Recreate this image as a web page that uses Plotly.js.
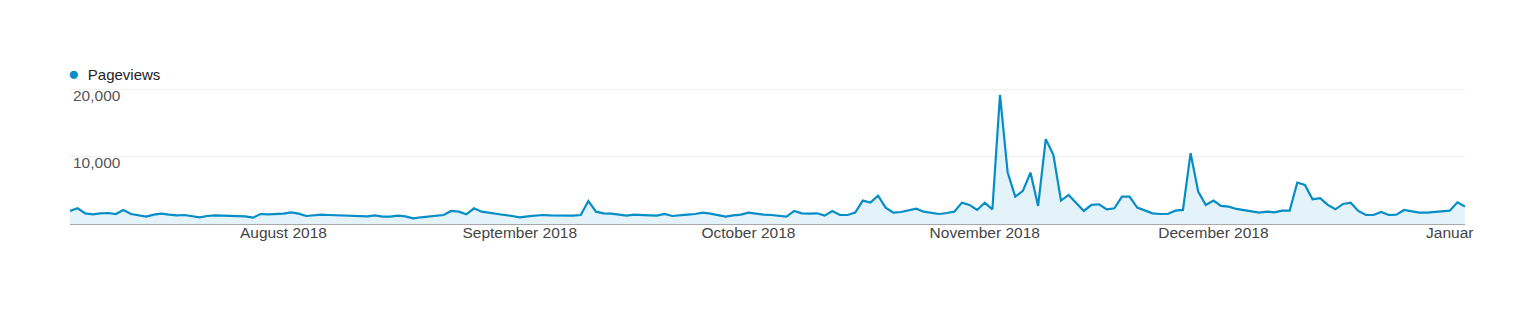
<!DOCTYPE html>
<html>
<head>
<meta charset="utf-8">
<script src="https://cdn.plot.ly/plotly-3.0.1.min.js"></script>
<style>
  html, body { margin: 0; padding: 0; background: #ffffff; }
  #chart { width: 1535px; height: 310px; }
</style>
</head>
<body>
<div id="chart"></div>
<script>
// Daily pageviews, one value per day starting at startDate
const seriesName = "Pageviews";
const startDate = "2018-07-04";
const pageviews = [
  1940, 2340, 1590, 1440, 1590, 1640, 1490, 2090, 1490, 1290,
  1090, 1390, 1540, 1390, 1290, 1340, 1190, 1000, 1190, 1290,
  1240, 1240, 1190, 1140, 950, 1490, 1440, 1490, 1540, 1740,
  1540, 1190, 1340, 1390, 1340, 1290, 1240, 1190, 1090, 1140,
  1290, 1090, 1090, 1240, 1140, 850, 1000, 1140, 1240, 1340,
  1940, 1840, 1440, 2340, 1840, 1640, 1490, 1340, 1190, 1000,
  1140, 1290, 1340, 1290, 1290, 1190, 1240, 1340, 3430, 1840,
  1590, 1540, 1390, 1240, 1390, 1290, 1290, 1240, 1490, 1190,
  1240, 1390, 1490, 1690, 1540, 1290, 1090, 1290, 1390, 1690,
  1490, 1390, 1340, 1240, 1090, 1940, 1590, 1540, 1590, 1240,
  1940, 1340, 1340, 1690, 3480, 3180, 4230, 2440, 1690, 1790,
  1990, 2290, 1840, 1690, 1490, 1640, 1840, 3180, 2840, 2090,
  3180, 2190, 19250, 7710, 4080, 4930, 7660, 2690, 12640, 10300,
  3480, 4330, 3080, 1940, 2840, 2940, 2190, 2340, 4080, 4080,
  2440, 1990, 1590, 1490, 1490, 1990, 2090, 10550, 4830, 2840,
  3480, 2690, 2590, 2240, 2090, 1840, 1690, 1840, 1740, 1990,
  1990, 6170, 5820, 3680, 3830, 2840, 2190, 2990, 3180, 1940,
  1340, 1340, 1790, 1340, 1390, 2090, 1890, 1690, 1690, 1790,
  1840, 1990, 3230, 2590
];
const monthTickDates = ["2018-08-01", "2018-09-01", "2018-10-01", "2018-11-01", "2018-12-01", "2019-01-01"];
const monthTickLabels = ["August 2018", "September 2018", "October 2018", "November 2018", "December 2018", "Januar"];
const yTickValues = [10000, 20000];
const yTickLabels = ["10,000", "20,000"];

// build the date categories (one per day)
const dates = [];
const d0 = new Date(startDate + "T00:00:00Z");
for (let i = 0; i < pageviews.length; i++) {
  const d = new Date(d0.getTime() + i * 86400000);
  dates.push(d.toISOString().slice(0, 10));
}

const lineColor = "#058DC7";

const trace = {
  x: dates,
  y: pageviews,
  type: "scatter",
  mode: "lines",
  name: seriesName,
  line: { color: lineColor, width: 2.2, shape: "linear" },
  fill: "tozeroy",
  fillcolor: "rgba(5,141,199,0.11)",
  showlegend: false,
  hoverinfo: "x+y"
};

const layout = {
  width: 1535,
  height: 310,
  margin: { l: 70, r: 70, t: 83, b: 86 },
  paper_bgcolor: "#ffffff",
  plot_bgcolor: "#ffffff",
  font: { family: "Liberation Sans, Arial, sans-serif", size: 15, color: "#444" },
  showlegend: false,
  xaxis: {
    type: "date",
    range: [dates[0], dates[dates.length - 1]],
    tickmode: "array",
    tickvals: monthTickDates,
    ticktext: monthTickLabels,
    showgrid: false,
    zeroline: false,
    showline: true,
    linecolor: "#a8a8a8",
    linewidth: 1,
    ticks: "",
    ticklen: 0,
    ticklabelstandoff: -6,
    tickfont: { size: 15.5, color: "#444" },
    fixedrange: true
  },
  yaxis: {
    range: [0, 21000],
    tickmode: "array",
    tickvals: yTickValues,
    ticktext: yTickLabels,
    ticklabelposition: "inside bottom",
    ticklabelshift: -5,
    showgrid: true,
    gridcolor: "#efefef",
    gridwidth: 1,
    zeroline: false,
    showline: false,
    ticks: "",
    tickfont: { size: 15.5, color: "#555" },
    fixedrange: true
  },
  annotations: [
    {
      xref: "paper", yref: "paper",
      x: 0, y: 1, xanchor: "left", yanchor: "bottom",
      yshift: -3, xshift: -4,
      showarrow: false,
      align: "left",
      text: '<span style="color:' + lineColor + ';font-size:19px">●</span>  ' + seriesName,
      font: { size: 15, color: "#222" }
    }
  ]
};

Plotly.newPlot("chart", [trace], layout, { displayModeBar: false, staticPlot: true });
</script>
</body>
</html>
